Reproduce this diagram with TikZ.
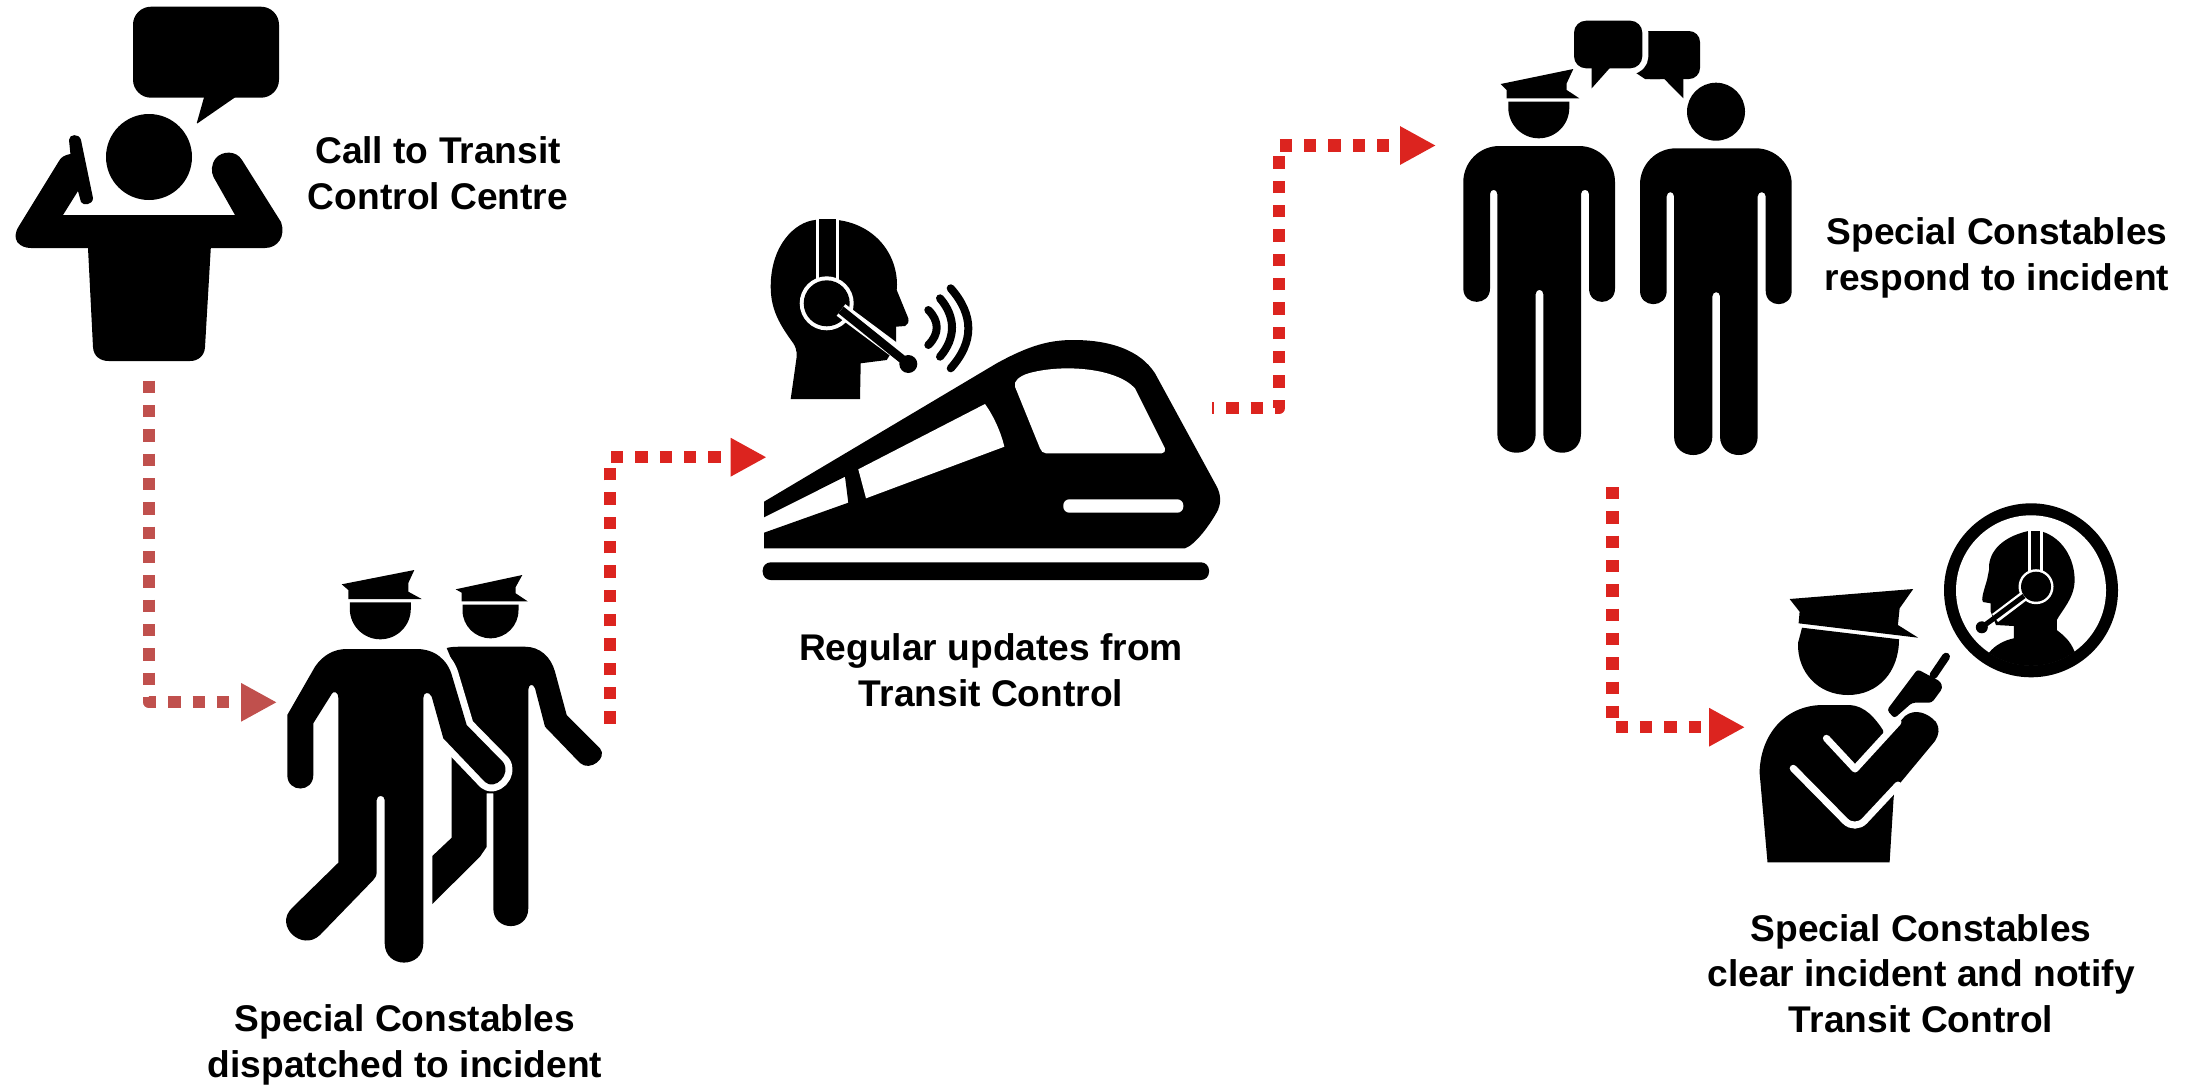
\documentclass[tikz,border=0pt]{standalone}
\usepackage{fontspec}
\setmainfont{Liberation Sans}
\usetikzlibrary{arrows.meta}
\definecolor{connred}{HTML}{DC241F}
\definecolor{connbrown}{HTML}{C0504D}
\tikzset{
  conn/.style={line width=12.3pt, dash pattern=on 12.33pt off 12pt, line join=round,
    -{Triangle[length=36pt,width=36pt]}},
  lbl/.style={font=\fontsize{37.15}{45.5}\selectfont\bfseries, align=center, anchor=base, inner sep=0pt, text=black},
  halo/.style={preaction={draw=white,line width=#1,line join=round}},
  whitestroke/.style={draw=white,line width=#1,line cap=round,line join=round},
}
\newcommand\halfhead[4]{% cx, ytop, ymid, r
  \fill ({#1-#4},#2) -- ({#1+#4},#2) -- ({#1+#4},#3) .. controls ({#1+#4},{#3+.5523*#4}) and ({#1+.5523*#4},{#3+#4}) .. (#1,{#3+#4}) .. controls ({#1-.5523*#4},{#3+#4}) and ({#1-#4},{#3+.5523*#4}) .. ({#1-#4},#3) -- cycle;}
\newcommand\standingman{%
  \fill (1463.3,288.5) [rounded corners=36pt] -- (1463.3,146) -- (1615,146) [sharp corners] -- (1615,288.5)
    .. controls (1615,306.3) and (1589,306.3) .. (1589,288.5) -- (1589,194)
    .. controls (1589,188.5) and (1581,188.5) .. (1581,194) -- (1581,433.85)
    .. controls (1581,459) and (1543.3,459) .. (1543.3,433.85) -- (1543.3,294)
    .. controls (1543.3,288.5) and (1535.7,288.5) .. (1535.7,294) -- (1535.7,433.85)
    .. controls (1535.7,459) and (1497.3,459) .. (1497.3,433.85) -- (1497.3,194)
    .. controls (1497.3,188.5) and (1490,188.5) .. (1490,194) -- (1490,288.5)
    .. controls (1490,306.3) and (1463.3,306.3) .. (1463.3,288.5) -- cycle;}
\begin{document}
\begin{tikzpicture}[x=1pt,y=-1pt]
\useasboundingbox (0,0) rectangle (2189,1085);
\fill[white] (0,0) rectangle (2189,1085);

% ---------- caller ----------
\fill[rounded corners=18pt] (133,6.7) rectangle (279,97.7);
\fill[rounded corners=1pt] (204.4,96) -- (196.5,124) -- (237,96) -- cycle;
\fill (149,157) circle[radius=43];
\fill (88,248) -- (93,347) .. controls (93.5,356) and (100,361) .. (108.7,361) -- (190,361)
  .. controls (198,361) and (204.5,356) .. (205,347) -- (210.8,248) -- (265,248)
  .. controls (278,248) and (286,236) .. (281,222) -- (242,160)
  .. controls (236,150) and (222,151) .. (216,158) .. controls (211,164) and (211,172) .. (213.5,177)
  -- (235,215) -- (63,215) -- (78,191) -- (81,202) .. controls (83,206) and (93,205) .. (93,198)
  -- (81,140) .. controls (79,133) and (69,134) .. (69,140) -- (70.4,154)
  .. controls (65,155) and (61,157) .. (59,161) -- (19,226) .. controls (10,240) and (20,248) .. (31,248) -- cycle;
\node[lbl] (callLabel) at (438,209) {Call to Transit\\Control Centre};

% ---------- two constables walking ----------
% back figure
\fill (455.7,589.3) -- (522.3,575) -- (515.7,587) -- (515.7,593.3) -- (527.7,601.3) -- (461.7,601.3) -- (461.7,592.7) -- cycle;
\halfhead{490.5}{604.7}{610.3}{28}
\fill (446.7,648) .. controls (450,647) and (455,646.7) .. (460,646.7) -- (525,646.7)
  .. controls (540,646.7) and (551,657) .. (555,671.7) -- (566.7,715) -- (600,748.3)
  .. controls (608,758) and (590,772) .. (580,763) -- (545,726.7) -- (535,688.3)
  .. controls (533,683) and (528.3,684) .. (528.3,690) -- (528.3,908.3)
  .. controls (528.3,932) and (493.3,932) .. (493.3,908.3) -- (493.3,793.3) -- (486.7,793.3) -- (486.7,846.7)
  -- (480,856.7) -- (432.3,904) -- (432.3,856) -- (451.7,837.7) -- (451.7,660) -- cycle;
% front figure
\fill (341.7,584.3) -- (414.3,570) -- (408.3,583) -- (408.3,591.7) -- (421.7,599) -- (348.3,599) -- (348.3,590) -- cycle;
\halfhead{380.3}{602.3}{608.8}{30.5}
\fill[halo=14pt] (346.7,649) -- (416.7,649) .. controls (435,649) and (448,660) .. (452.3,676.7)
  -- (466.7,725) -- (503,762) .. controls (512,774) and (495,791) .. (485,782) -- (443.3,738.3) -- (431.7,696.7)
  .. controls (429,691) and (423.3,692) .. (423.3,698) -- (423.3,943.3)
  .. controls (423.3,969) and (384.7,969) .. (384.7,943.3) -- (384.7,800)
  .. controls (384.7,794.5) and (376.7,794.5) .. (376.7,800) -- (376.7,871.7)
  .. controls (376.7,876) and (375,878) .. (373.3,880) -- (320,935)
  .. controls (302,952) and (274,926) .. (291.7,908.3) -- (338.3,862.7) -- (338.3,698)
  .. controls (338.3,691) and (333,691) .. (331.7,694) -- (313.3,723.3) -- (313.3,775)
  .. controls (313.3,793) and (287.3,793) .. (287.3,775) -- (287.3,715) -- (315,666.7)
  .. controls (323,655) and (334,649) .. (346.7,649) -- cycle;

% ---------- operator and train ----------
\fill (790.7,399) -- (796.7,356.7) .. controls (797,350) and (795,346) .. (793.3,343.3)
  .. controls (780,325) and (770.7,310) .. (770.7,286.7) .. controls (770.7,245) and (795,222) .. (815,220)
  -- (826.7,219.3) .. controls (870,219.3) and (897,250) .. (897,285) -- (896.7,290) -- (908.3,318.3)
  .. controls (909,322) and (908,325) .. (905,326) -- (896,326.7) -- (896,345) -- (886.7,360)
  -- (860.7,363.3) -- (860,399) -- cycle;
\fill[white] (815.5,219.3) rectangle (839,285);
\fill (818.8,219.3) rectangle (835.6,285);
\fill[white] (826.7,303.3) circle[radius=27];
\fill (826.7,303.3) circle[radius=23];
\draw[white,line width=14.5pt] (841,310) -- (896,351);
\draw[black,line width=8.5pt] (841,310) -- (908.3,364);
\fill (908.3,364) circle[radius=9];
\draw[line width=8pt,line cap=round] (928.3,310) .. controls (939.5,321) and (939.5,334) .. (928.3,345);
\draw[line width=8pt,line cap=round] (940,298.3) .. controls (956,317) and (956,338) .. (940,356.7);
\draw[line width=8pt,line cap=round] (950.7,288.3) .. controls (974.2,315) and (974.2,342) .. (950.7,368.3);
% train
\fill (764,501.7) -- (996.7,363.3) .. controls (1030,345) and (1050,340) .. (1073.3,340)
  .. controls (1110,340) and (1140,350) .. (1155,373.3) -- (1217,487) .. controls (1221,495) and (1221,503) .. (1218,510)
  .. controls (1210,525) and (1195,545) .. (1185,548.3) -- (764,548.3) -- (764,532.7)
  -- (848.3,502.7) -- (845,476.7) -- (764,517.3) -- cycle;
\fill[white] (858.3,469.3) -- (985,404) .. controls (993,415) and (1001,432) .. (1004.3,446.7) -- (866,498.3) -- cycle;
\fill[white] (1015,386.7) .. controls (1013,381) and (1020,376) .. (1028,373.5) .. controls (1060,364) and (1115,367) .. (1135,388.3)
  -- (1165,448.3) .. controls (1166,451) and (1164,453.3) .. (1161.7,453.3) -- (1046,453.3) .. controls (1043,453.3) and (1041,451) .. (1040,448.3) -- cycle;
\fill[white,rounded corners=6pt] (1063.3,499.3) rectangle (1183.3,512.7);
\fill[rounded corners=8pt] (762.7,562.3) rectangle (1209,580);
\node[lbl] (updateLabel) at (991,706) {Regular updates from\\Transit Control};

% ---------- two standing figures ----------
\fill[rounded corners=11pt] (1648,31) -- (1700,31) -- (1700,79) -- (1650,79);
\fill (1648,31) -- (1660,31) -- (1660,79) -- (1645,79) -- (1636,73) -- (1640,50) -- cycle;
\fill (1663.3,78) -- (1683.3,98.3) -- (1683.3,78) -- cycle;
\fill[rounded corners=12pt,halo=12pt] (1574,20.7) rectangle (1642.3,68.3);
\fill (1591.7,67) -- (1591.7,88.3) -- (1610.7,67) -- cycle;
\standingman
\fill (1500.7,84) -- (1573.3,69) -- (1566.7,83.3) -- (1566.7,90) -- (1579.3,98.3) -- (1506.7,98.3) -- (1506.7,90) -- cycle;
\halfhead{1538.8}{101.7}{107.8}{30.5}
\begin{scope}[shift={(176.7,2.3)}]
\standingman
\end{scope}
\fill (1716,111.7) circle[radius=29];
\node[lbl] (respondLabel) at (1997,290) {Special Constables\\respond to incident};

% ---------- constable with radio ----------
\fill (1789.6,599) -- (1913.2,589) -- (1899.6,608.3) -- (1897.9,625) -- (1918.2,637.7) -- (1798.6,623.3) -- (1799.6,611.7) -- cycle;
\fill (1802,627.7) -- (1899,639.3) .. controls (1899,672) and (1878,695) .. (1848,695) .. controls (1818,695) and (1797,672) .. (1798,643) -- cycle;
\draw[line width=8pt,line cap=round] (1946,656.7) -- (1933.6,675);
\fill[rounded corners=3pt] (1917.5,669.3) -- (1940.7,681.7) -- (1942.5,688.3) -- (1931.8,702.7) -- (1912.1,702.7) -- (1894.3,718.3) -- (1887,710) -- cycle;
\fill (1767.5,862.3) -- (1759.6,773) .. controls (1760,735) and (1785,705) .. (1823,705) -- (1850,705)
  .. controls (1865,706) and (1875,718) .. (1882.9,730) -- (1894,795) -- (1893.6,798) -- (1889.6,862.3) -- cycle;
\fill (1855,773) -- (1905,716) .. controls (1915,708) and (1928,713) .. (1936,722) .. controls (1940,728) and (1939,735) .. (1935,741) -- (1894.3,790) -- (1871,815) -- (1855,822) -- cycle;
\path[whitestroke=7pt] (1826.4,738.3) -- (1855,769) -- (1898,722);
\path[whitestroke=7pt,rounded corners=14pt] (1793.2,768.3) -- (1855,831) -- (1898,785);
% circle with operator
\fill (2031,590.3) circle[radius=87];
\fill[white] (2031,590.3) circle[radius=75];
\begin{scope}
\clip (2031,590.3) circle[radius=75.5];
\fill (2028.2,531) -- (2042.5,531.7) .. controls (2062,538) and (2074.6,558) .. (2074.6,580)
  .. controls (2074.6,598) and (2062,610) .. (2056.8,620) -- (2056.8,630) .. controls (2063,635) and (2070,640) .. (2074.6,651.7)
  -- (2100,700) -- (1960,700) -- (1989,652.7) .. controls (1995,645) and (2005,640) .. (2013.9,638.3) -- (2013.9,626) -- (1996,625)
  -- (1990.7,611.7) -- (1990.7,603.3) -- (1983,602) .. controls (1981,600) and (1983,593) .. (1987,580)
  -- (1989,570) .. controls (1988,555) and (1998,538) .. (2028.2,531) -- cycle;
\end{scope}
\fill[white] (2028.4,531) rectangle (2043,575);
\fill (2030.7,531) rectangle (2040.3,575);
\fill[white] (2036,586.7) circle[radius=17.5];
\fill (2036,586.7) circle[radius=15];
\draw[white,line width=10pt] (2024,596) -- (1995,618);
\draw[black,line width=5pt] (2024,596) -- (1981.8,627.3);
\fill (1981.8,627.3) circle[radius=6];
\node[lbl] (clearLabel) at (1921,1032) {Special Constables\\clear incident and notify\\Transit Control};
\node[lbl] (dispatchLabel) at (405,1077) {Special Constables\\dispatched to incident};

% ---------- connectors ----------
\coordinate (callerOut) at (149.2,380.7);
\coordinate (dispatchIn) at (277,702.3);
\coordinate (dispatchOut) at (610,723.7);
\coordinate (trainIn) at (766.7,457.2);
\coordinate (trainOut) at (1212,408.3);
\coordinate (bendA) at (1278.7,408.3);
\coordinate (respondIn) at (1436,145.5);
\coordinate (respondOut) at (1612.5,487);
\coordinate (radioIn) at (1745,727.2);
\draw[conn,connbrown] (callerOut) |- (dispatchIn);
\draw[conn,connred] (dispatchOut) |- (trainIn);
\draw[conn,connred,dash phase=10pt] (trainOut) -- (bendA) |- (respondIn);
\draw[conn,connred] (respondOut) |- (radioIn);
\end{tikzpicture}
\end{document}
